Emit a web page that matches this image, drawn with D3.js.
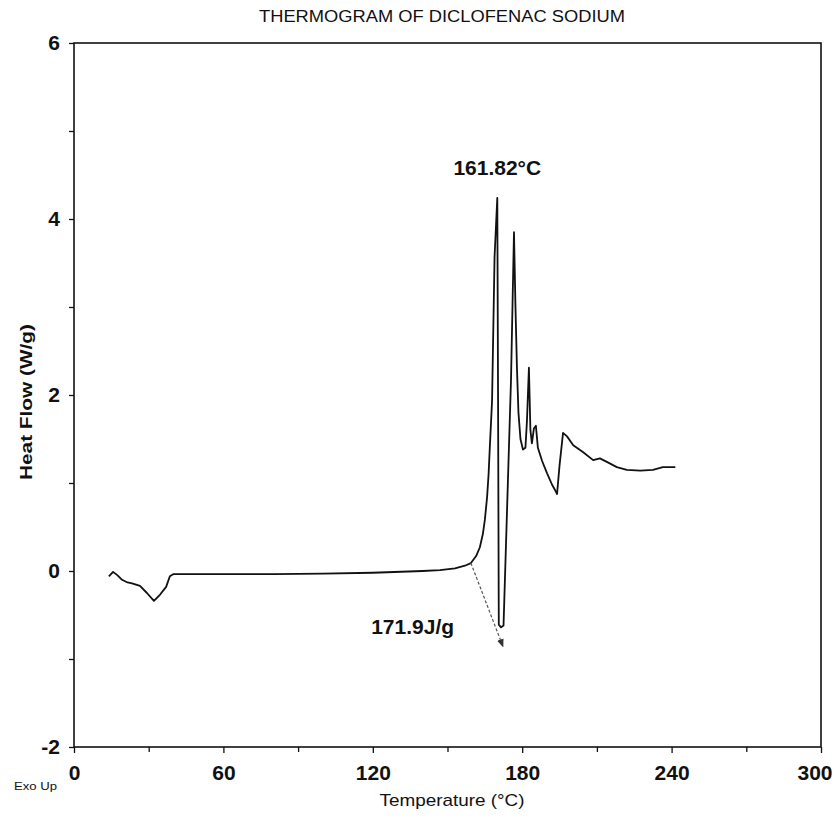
<!DOCTYPE html>
<html>
<head>
<meta charset="utf-8">
<script src="https://cdn.jsdelivr.net/npm/d3@7"></script>
<style>
    body { margin: 0; background: #fff; }
    text { font-family: "Liberation Sans", Arial, sans-serif; fill: #111; }
</style>
</head>
<body>
<div class="graph-goes-here"></div>
<script>
// temperature (°C) and heat flow (W/g)
var temperature = [14, 15.7, 17.5, 19.3, 21.5, 23.3, 26.5, 29.3, 32.1, 34.5, 37, 38.5, 40,
    60, 80, 100, 120, 140, 147, 153, 157, 159.4, 161.5, 163, 164.2, 165, 165.9, 166.5, 167, 167.5, 167.9,
    168.9, 170, 170.3, 170.6, 171.5, 172.5, 175.5, 176.7, 177.3, 177.9, 178.5, 179.3, 180.3, 181.3,
    181.9, 182.7, 183.3, 183.9, 184.7, 185.5, 186.3, 188, 190, 192, 193.2, 194, 195, 196.4, 198,
    200.5, 204.5, 208.5, 211.2, 214, 218, 222, 227.5, 232.5, 236.5, 241.5];
var heatFlow = [-0.06, -0.01, -0.05, -0.10, -0.13, -0.14, -0.17, -0.25, -0.34, -0.27, -0.18, -0.06, -0.035,
    -0.035, -0.035, -0.03, -0.02, 0.0, 0.01, 0.03, 0.06, 0.09, 0.17, 0.27, 0.42, 0.58, 0.84, 1.1, 1.41, 1.7, 1.94,
    3.57, 4.24, 2.0, -0.61, -0.64, -0.62, 2.17, 3.85, 3.0, 2.3, 1.8, 1.5, 1.38, 1.40,
    1.7, 2.31, 1.6, 1.45, 1.62, 1.65, 1.40, 1.25, 1.11, 0.98, 0.92, 0.875, 1.2, 1.57, 1.53,
    1.43, 1.35, 1.26, 1.28, 1.24, 1.18, 1.15, 1.14, 1.15, 1.18, 1.18];

var xTicks = [0, 60, 120, 180, 240, 300];
var xMinorTicks = [30, 90, 150, 210, 270];
var yTicks = [-2, 0, 2, 4, 6];
var yMinorTicks = [-1, 1, 3, 5];

// enthalpy arrow: onset point -> tip
var arrowT = [159.4, 172.3];
var arrowHF = [0.09, -0.86];

var peakLabel = { text: "161.82°C", t: 170, hf: 4.5 };
var areaLabel = { text: "171.9J/g", t: 136, hf: -0.72 };

var margin = { top: 43, right: 15, bottom: 73, left: 74 },
    width = 836 - margin.left - margin.right,
    height = 820 - margin.top - margin.bottom;

var svg = d3.select(".graph-goes-here")
    .append("svg")
    .attr("width", 836)
    .attr("height", 820);

svg.append("text")
    .attr("x", 442)
    .attr("y", 22)
    .attr("text-anchor", "middle")
    .attr("font-size", 16)
    .attr("textLength", 366)
    .attr("lengthAdjust", "spacingAndGlyphs")
    .text("THERMOGRAM OF DICLOFENAC SODIUM");

var g = svg.append("g")
    .attr("transform", "translate(" + margin.left + "," + margin.top + ")");

var xScale = d3.scaleLinear().domain([0, 300]).range([0, width]);
var yScale = d3.scaleLinear().domain([-2, 6]).range([height, 0]);

// frame
g.append("rect")
    .attr("width", width)
    .attr("height", height)
    .attr("fill", "none")
    .attr("stroke", "#111")
    .attr("stroke-width", 1.6);

var xAxis = g.append("g")
    .attr("transform", "translate(0," + height + ")")
    .call(d3.axisBottom(xScale).tickValues(xTicks).tickSize(6).tickPadding(12).tickFormat(d => String(d)));
g.append("g")
    .attr("transform", "translate(0," + height + ")")
    .call(d3.axisBottom(xScale).tickValues(xMinorTicks).tickSize(5).tickFormat(""));

var yAxis = g.append("g")
    .call(d3.axisLeft(yScale).tickValues(yTicks).tickSize(5).tickPadding(9).tickFormat(d => String(d)));
g.append("g")
    .call(d3.axisLeft(yScale).tickValues(yMinorTicks).tickSize(5).tickFormat(""));

g.selectAll(".domain").remove();
g.selectAll(".tick line").attr("stroke", "#111").attr("stroke-width", 1.3);
[xAxis, yAxis].forEach(ax => ax.selectAll(".tick text")
    .attr("font-size", 21)
    .attr("font-weight", "bold")
    .attr("font-family", "Liberation Sans, Arial, sans-serif")
    .attr("fill", "#111"));

// last x label sits against the page edge, as in the scan
xAxis.selectAll(".tick text").filter(d => d == 300)
    .attr("text-anchor", "end")
    .attr("dx", 11);

// axis titles
svg.append("text")
    .attr("x", 452)
    .attr("y", 806)
    .attr("text-anchor", "middle")
    .attr("font-size", 17)
    .attr("textLength", 145)
    .attr("lengthAdjust", "spacingAndGlyphs")
    .text("Temperature (°C)");

svg.append("text")
    .attr("transform", "translate(32,402) rotate(-90)")
    .attr("text-anchor", "middle")
    .attr("font-size", 17)
    .attr("font-weight", "bold")
    .attr("textLength", 156)
    .attr("lengthAdjust", "spacingAndGlyphs")
    .text("Heat Flow (W/g)");

svg.append("text")
    .attr("x", 14)
    .attr("y", 790)
    .attr("font-size", 11)
    .attr("textLength", 43)
    .attr("lengthAdjust", "spacingAndGlyphs")
    .text("Exo Up");

// the thermogram
var points = temperature.map((t, i) => ({ t: t, hf: heatFlow[i] }));

g.append("path")
    .datum(points)
    .attr("fill", "none")
    .attr("stroke", "#111")
    .attr("stroke-width", 1.8)
    .attr("stroke-linejoin", "round")
    .attr("d", d3.line()
        .x(d => xScale(d.t))
        .y(d => yScale(d.hf))
    );

// dashed integration arrow
svg.append("defs").append("marker")
    .attr("id", "arrowhead")
    .attr("viewBox", "0 0 10 10")
    .attr("refX", 9)
    .attr("refY", 5)
    .attr("markerWidth", 7)
    .attr("markerHeight", 9)
    .attr("orient", "auto")
    .append("path")
    .attr("d", "M0,1 L10,5 L0,9 Z")
    .attr("fill", "#333");

g.append("line")
    .attr("x1", xScale(arrowT[0]))
    .attr("y1", yScale(arrowHF[0]))
    .attr("x2", xScale(arrowT[1]))
    .attr("y2", yScale(arrowHF[1]))
    .attr("stroke", "#555")
    .attr("stroke-width", 1.2)
    .attr("stroke-dasharray", "3,2")
    .attr("marker-end", "url(#arrowhead)");

g.append("text")
    .attr("x", xScale(peakLabel.t))
    .attr("y", yScale(peakLabel.hf))
    .attr("text-anchor", "middle")
    .attr("font-size", 21)
    .attr("font-weight", "bold")
    .text(peakLabel.text);

g.append("text")
    .attr("x", xScale(areaLabel.t))
    .attr("y", yScale(areaLabel.hf))
    .attr("text-anchor", "middle")
    .attr("font-size", 21)
    .attr("font-weight", "bold")
    .text(areaLabel.text);
</script>
</body>
</html>
